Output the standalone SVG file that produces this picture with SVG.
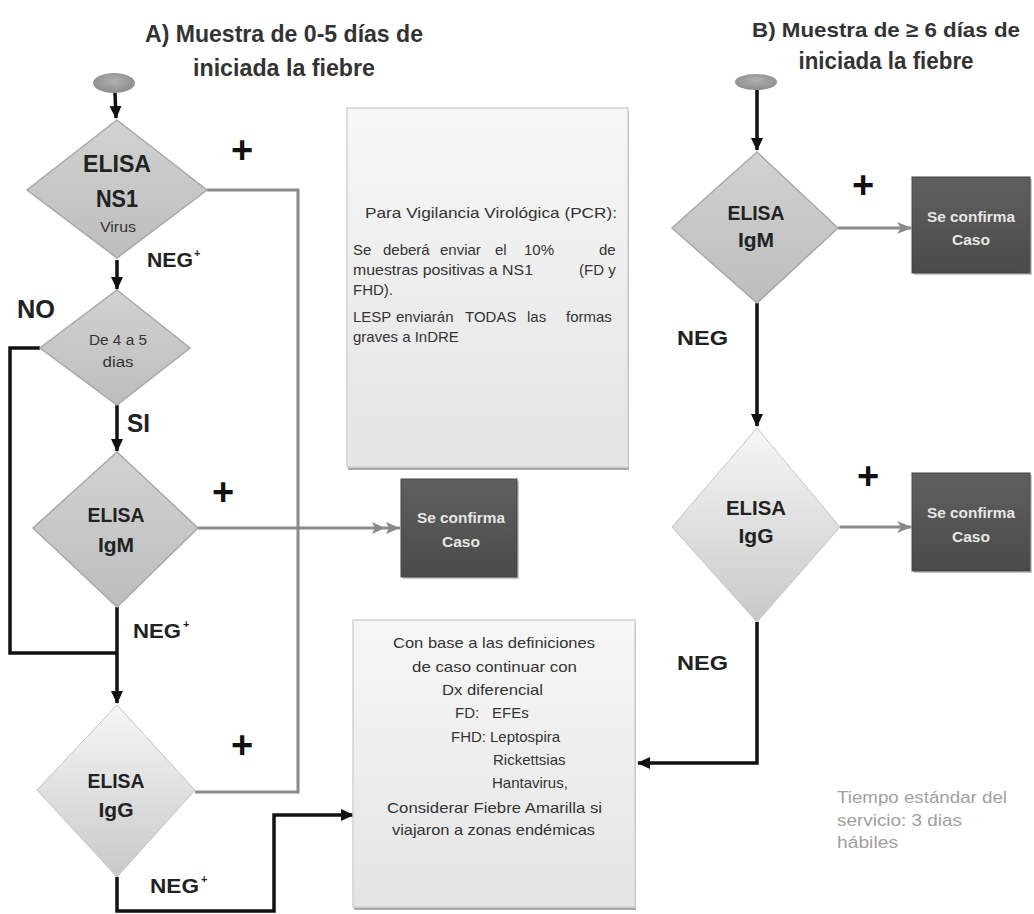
<svg xmlns="http://www.w3.org/2000/svg" width="1034" height="914" viewBox="0 0 1034 914">
<defs>
<linearGradient id="gDia" x1="0" y1="0" x2="0" y2="1"><stop offset="0" stop-color="#d2d2d2"/><stop offset="1" stop-color="#bdbdbd"/></linearGradient>
<linearGradient id="gDiaL" x1="0" y1="0" x2="0" y2="1"><stop offset="0" stop-color="#f6f6f6"/><stop offset="1" stop-color="#c9c9c9"/></linearGradient>
<linearGradient id="gBox" x1="0" y1="0" x2="0" y2="1"><stop offset="0" stop-color="#f7f7f7"/><stop offset="1" stop-color="#e4e4e4"/></linearGradient>
<linearGradient id="gDark" x1="0" y1="0" x2="0" y2="1"><stop offset="0" stop-color="#606060"/><stop offset="1" stop-color="#4a4a4a"/></linearGradient>
<radialGradient id="gEll" cx="0.5" cy="0.4" r="0.6"><stop offset="0" stop-color="#b0b0b0"/><stop offset="1" stop-color="#8c8c8c"/></radialGradient>
<marker id="ab" markerUnits="userSpaceOnUse" markerWidth="14" markerHeight="14" refX="12" refY="7" orient="auto"><path d="M0,1 L13,7 L0,13 Z" fill="#111"/></marker>
<marker id="ag" markerUnits="userSpaceOnUse" markerWidth="16" markerHeight="14" refX="14" refY="7" orient="auto"><path d="M0,1 L15,7 L0,13 L4,7 Z" fill="#8a8a8a"/></marker>
<marker id="ag2" markerUnits="userSpaceOnUse" markerWidth="30" markerHeight="14" refX="28" refY="7" orient="auto"><path d="M0,1 L13,7 L0,13 L3,7 Z M14,1 L28,7 L14,13 L17,7 Z" fill="#8a8a8a"/></marker>
</defs>
<style>
text{font-family:"Liberation Sans",Arial,sans-serif;}
.t{font-size:24px;font-weight:bold;fill:#333;}
.dl{font-size:21px;font-weight:bold;fill:#222;text-anchor:middle;}
.ds{font-size:14px;fill:#333;text-anchor:middle;}
.lb{font-size:21px;font-weight:bold;fill:#222;}
.sup{font-size:11px;font-weight:bold;fill:#222;}
.pl{font-size:38px;font-weight:bold;fill:#111;text-anchor:middle;}
.cf{font-size:15px;font-weight:bold;fill:#e6e6e6;text-anchor:middle;}
.bx{font-size:15px;fill:#333;}
.tm{font-size:16px;fill:#a0a0a0;}
.dia{fill:url(#gDia);stroke:#a8a8a8;stroke-width:1.5;}
.dial{fill:url(#gDiaL);stroke:#c4c4c4;stroke-width:1;}
.dark{fill:url(#gDark);stroke:#444;stroke-width:1;}
.lbox{fill:url(#gBox);stroke:#d2d2d2;stroke-width:1.5;}
.blk{fill:none;stroke:#111;stroke-width:3.5;}
.gry{fill:none;stroke:#8a8a8a;stroke-width:3;}
</style>
<rect width="1034" height="914" fill="#ffffff"/>

<g id="titleA">
<text class="t" x="284" y="42" text-anchor="middle" textLength="278" lengthAdjust="spacingAndGlyphs">A) Muestra de 0-5 días de</text>
<text class="t" x="284" y="76" text-anchor="middle" textLength="182" lengthAdjust="spacingAndGlyphs">iniciada la fiebre</text>
</g>
<g id="titleB">
<text class="t" x="886" y="37" text-anchor="middle" style="font-size:21px" textLength="268" lengthAdjust="spacingAndGlyphs">B) Muestra de ≥ 6 días de</text>
<text class="t" x="886" y="69" text-anchor="middle" textLength="175" lengthAdjust="spacingAndGlyphs">iniciada la fiebre</text>
</g>

<g id="connectors">
<path class="blk" d="M115,93 L116,118" marker-end="url(#ab)"/>
<path class="blk" d="M117,260 L117,289" marker-end="url(#ab)"/>
<path class="blk" d="M117,405 L117,451" marker-end="url(#ab)"/>
<path class="blk" d="M117,607 L117,703" marker-end="url(#ab)"/>
<path class="blk" d="M40,348 L10,348 L10,653 L117,653"/>
<path class="blk" d="M117,877 L117,911 L274,911 L274,815 L353,815" marker-end="url(#ab)"/>
<path class="gry" d="M207,190 L298,190 L298,792 L195,792"/>
<path class="gry" d="M198,528 L400,528" marker-end="url(#ag2)"/>
<path class="blk" d="M757,90 L757,150" marker-end="url(#ab)"/>
<path class="blk" d="M757,303 L757,426" marker-end="url(#ab)"/>
<path class="gry" d="M838,228 L911,228" marker-end="url(#ag)"/>
<path class="gry" d="M840,527 L911,527" marker-end="url(#ag)"/>
<path class="blk" d="M757,622 L757,763 L638,763" marker-end="url(#ab)"/>
</g>

<g id="startA"><ellipse cx="114" cy="83" rx="21" ry="10" fill="url(#gEll)"/></g>
<g id="startB"><ellipse cx="756" cy="82" rx="21" ry="8" fill="url(#gEll)"/></g>

<g id="ns1">
<polygon class="dia" points="117,120 207,190 117,258 27,190"/>
<text class="dl" x="117" y="172" style="font-size:23px" textLength="68" lengthAdjust="spacingAndGlyphs">ELISA</text>
<text class="dl" x="117" y="207" style="font-size:23px" textLength="42" lengthAdjust="spacingAndGlyphs">NS1</text>
<text class="ds" x="118" y="232" textLength="36" lengthAdjust="spacingAndGlyphs">Virus</text>
</g>
<g id="dias">
<polygon class="dia" points="117,290 190,348 117,405 40,348"/>
<text class="ds" x="118" y="345" textLength="58" lengthAdjust="spacingAndGlyphs">De 4 a 5</text>
<text class="ds" x="118" y="367" textLength="31" lengthAdjust="spacingAndGlyphs">dias</text>
</g>
<g id="igmA">
<polygon class="dia" points="117,452 198,528 117,607 33,528"/>
<text class="dl" x="116" y="522" textLength="57" lengthAdjust="spacingAndGlyphs">ELISA</text>
<text class="dl" x="116" y="552">IgM</text>
</g>
<g id="iggA">
<polygon class="dial" points="117,705 195,790 117,877 37,790"/>
<text class="dl" x="116" y="788" textLength="57" lengthAdjust="spacingAndGlyphs">ELISA</text>
<text class="dl" x="116" y="817">IgG</text>
</g>
<g id="igmB">
<polygon class="dia" points="757,152 838,228 757,303 672,228"/>
<text class="dl" x="756" y="220" textLength="57" lengthAdjust="spacingAndGlyphs">ELISA</text>
<text class="dl" x="756" y="247">IgM</text>
</g>
<g id="iggB">
<polygon class="dial" points="757,428 840,527 757,622 672,527"/>
<text class="dl" x="756" y="515" textLength="60" lengthAdjust="spacingAndGlyphs">ELISA</text>
<text class="dl" x="756" y="543">IgG</text>
</g>

<g id="confA">
<rect x="403" y="481" width="116" height="98" fill="#c8c8c8"/>
<rect class="dark" x="401" y="479" width="116" height="98"/>
<text class="cf" x="461" y="523" textLength="88" lengthAdjust="spacingAndGlyphs">Se confirma</text>
<text class="cf" x="461" y="547" textLength="38" lengthAdjust="spacingAndGlyphs">Caso</text>
</g>
<g id="confB1">
<rect x="914" y="179" width="118" height="96" fill="#c8c8c8"/>
<rect class="dark" x="912" y="177" width="118" height="96"/>
<text class="cf" x="971" y="222" textLength="88" lengthAdjust="spacingAndGlyphs">Se confirma</text>
<text class="cf" x="971" y="245" textLength="38" lengthAdjust="spacingAndGlyphs">Caso</text>
</g>
<g id="confB2">
<rect x="914" y="475" width="118" height="98" fill="#c8c8c8"/>
<rect class="dark" x="912" y="473" width="118" height="98"/>
<text class="cf" x="971" y="518" textLength="88" lengthAdjust="spacingAndGlyphs">Se confirma</text>
<text class="cf" x="971" y="542" textLength="38" lengthAdjust="spacingAndGlyphs">Caso</text>
</g>

<g id="pcr">
<rect x="348" y="111" width="281" height="359" fill="#a8a8a8"/>
<rect class="lbox" x="347" y="108" width="281" height="359"/>
<text class="bx" x="365" y="218" textLength="252" lengthAdjust="spacingAndGlyphs">Para Vigilancia Virológica (PCR):</text>
<text class="bx" x="353" y="255">Se</text>
<text class="bx" x="383" y="255">deberá</text>
<text class="bx" x="440" y="255">enviar</text>
<text class="bx" x="495" y="255">el</text>
<text class="bx" x="524" y="255">10%</text>
<text class="bx" x="599" y="255">de</text>
<text class="bx" x="353" y="275" textLength="180" lengthAdjust="spacingAndGlyphs">muestras positivas a NS1</text>
<text class="bx" x="579" y="275">(FD y</text>
<text class="bx" x="353" y="295">FHD).</text>
<text class="bx" x="353" y="322">LESP</text>
<text class="bx" x="396" y="322">enviarán</text>
<text class="bx" x="465" y="322">TODAS</text>
<text class="bx" x="527" y="322">las</text>
<text class="bx" x="566" y="322">formas</text>
<text class="bx" x="353" y="342">graves a InDRE</text>
</g>

<g id="dx">
<rect x="354" y="623" width="282" height="287" fill="#a8a8a8"/>
<rect class="lbox" x="353" y="620" width="282" height="287"/>
<text class="bx" x="393" y="648" textLength="202" lengthAdjust="spacingAndGlyphs">Con base a las definiciones</text>
<text class="bx" x="412" y="672" textLength="165" lengthAdjust="spacingAndGlyphs">de caso continuar con</text>
<text class="bx" x="442" y="695" textLength="101" lengthAdjust="spacingAndGlyphs">Dx diferencial</text>
<text class="bx" x="455" y="718">FD:</text>
<text class="bx" x="492" y="718">EFEs</text>
<text class="bx" x="451" y="742">FHD:</text>
<text class="bx" x="490" y="742">Leptospira</text>
<text class="bx" x="493" y="765">Rickettsias</text>
<text class="bx" x="492" y="788">Hantavirus,</text>
<text class="bx" x="387" y="813" textLength="215" lengthAdjust="spacingAndGlyphs">Considerar Fiebre Amarilla si</text>
<text class="bx" x="392" y="835" textLength="203" lengthAdjust="spacingAndGlyphs">viajaron a zonas endémicas</text>
</g>

<g id="labels">
<text class="pl" x="242" y="163">+</text>
<text class="pl" x="223" y="505">+</text>
<text class="pl" x="242" y="758">+</text>
<text class="pl" x="863" y="198">+</text>
<text class="pl" x="868" y="489">+</text>
<text class="lb" x="147" y="267" textLength="46" lengthAdjust="spacingAndGlyphs">NEG</text><text class="sup" x="194" y="257">+</text>
<text class="lb" x="133" y="638" textLength="48" lengthAdjust="spacingAndGlyphs">NEG</text><text class="sup" x="183" y="628">+</text>
<text class="lb" x="150" y="893" textLength="49" lengthAdjust="spacingAndGlyphs">NEG</text><text class="sup" x="201" y="883">+</text>
<text class="lb" x="677" y="345" textLength="51" lengthAdjust="spacingAndGlyphs">NEG</text>
<text class="lb" x="677" y="670" textLength="51" lengthAdjust="spacingAndGlyphs">NEG</text>
<text class="lb" x="17" y="318" style="font-size:25px" textLength="38" lengthAdjust="spacingAndGlyphs">NO</text>
<text class="lb" x="127" y="432" style="font-size:25px" textLength="23" lengthAdjust="spacingAndGlyphs">SI</text>
</g>

<g id="tiempo">
<text class="tm" x="837" y="803" textLength="170" lengthAdjust="spacingAndGlyphs">Tiempo estándar del</text>
<text class="tm" x="837" y="826" textLength="125" lengthAdjust="spacingAndGlyphs">servicio: 3 dias</text>
<text class="tm" x="837" y="848" textLength="61" lengthAdjust="spacingAndGlyphs">hábiles</text>
</g>
</svg>
